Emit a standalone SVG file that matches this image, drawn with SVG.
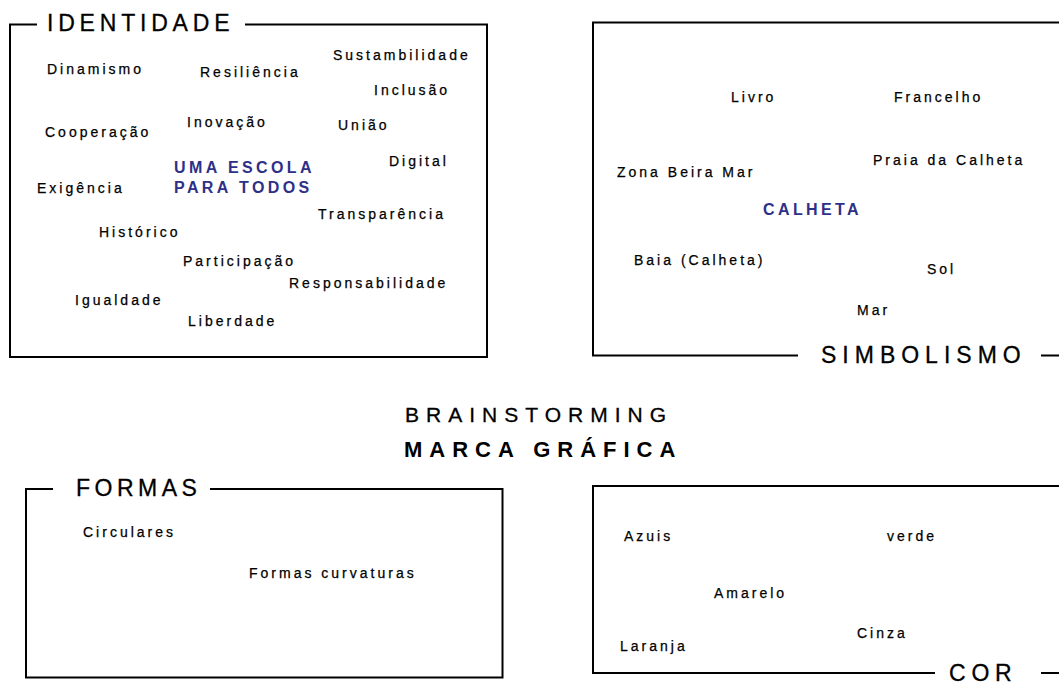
<svg xmlns="http://www.w3.org/2000/svg" width="1059" height="684" viewBox="0 0 1059 684">
<style>
.frame{fill:none;stroke:#000;stroke-width:2}
.w{font-family:"Liberation Sans",Arial,sans-serif;font-size:14px;letter-spacing:3px;fill:#000;stroke:#000;stroke-width:0.25px}
.k{font-family:"Liberation Sans",Arial,sans-serif;font-size:16px;font-weight:bold;letter-spacing:3.4px;fill:#2e3088}
.t{font-family:"Liberation Sans",Arial,sans-serif;font-size:23px;fill:#000;stroke:#000;stroke-width:0.3px}
</style>
<rect width="1059" height="684" fill="#fff"/>
<g id="identidade">
<path class="frame" d="M37,24.5 H10 V357 H487 V24.5 H245"/>
<text class="t" x="47" y="31" letter-spacing="4.8">IDENTIDADE</text>
<text class="w" x="333" y="60">Sustambilidade</text>
<text class="w" x="47" y="74">Dinamismo</text>
<text class="w" x="200" y="77">Resiliência</text>
<text class="w" x="374" y="95">Inclusão</text>
<text class="w" x="187" y="127">Inovação</text>
<text class="w" x="338" y="130">União</text>
<text class="w" x="45" y="137">Cooperação</text>
<text class="w" x="389" y="166">Digital</text>
<text class="k" x="174" y="173">UMA ESCOLA</text>
<text class="k" x="174" y="193">PARA TODOS</text>
<text class="w" x="37" y="193">Exigência</text>
<text class="w" x="318" y="219">Transparência</text>
<text class="w" x="99" y="237">Histórico</text>
<text class="w" x="183" y="266">Participação</text>
<text class="w" x="289" y="288">Responsabilidade</text>
<text class="w" x="75" y="305">Igualdade</text>
<text class="w" x="188" y="326">Liberdade</text>
</g>
<g id="simbolismo">
<path class="frame" d="M1060,22.5 H593 V355.5 H798 M1041,355.5 H1060"/>
<text class="t" x="821" y="363" letter-spacing="6">SIMBOLISMO</text>
<text class="w" x="731" y="102">Livro</text>
<text class="w" x="894" y="102">Francelho</text>
<text class="w" x="873" y="164.5">Praia da Calheta</text>
<text class="w" x="617" y="177">Zona Beira Mar</text>
<text class="k" x="763" y="215">CALHETA</text>
<text class="w" x="634" y="265">Baia (Calheta)</text>
<text class="w" x="927" y="274">Sol</text>
<text class="w" x="857" y="315">Mar</text>
</g>
<g id="titulo">
<text x="405" y="422" font-family="Liberation Sans, Arial, sans-serif" font-size="21" letter-spacing="7" fill="#000" stroke="#000" stroke-width="0.3">BRAINSTORMING</text>
<text x="404" y="457" font-family="Liberation Sans, Arial, sans-serif" font-size="22" font-weight="bold" letter-spacing="7" fill="#000">MARCA GRÁFICA</text>
</g>
<g id="formas">
<path class="frame" d="M53,489 H26 V677.5 H502.5 V489 H210"/>
<text class="t" x="76" y="496" font-size="24" letter-spacing="4.5">FORMAS</text>
<text class="w" x="83" y="537">Circulares</text>
<text class="w" x="249" y="577.5">Formas curvaturas</text>
</g>
<g id="cor">
<path class="frame" d="M1060,486 H593 V673 H935 M1041,673 H1060"/>
<text class="t" x="949" y="681" letter-spacing="5.8">COR</text>
<text class="w" x="624" y="541">Azuis</text>
<text class="w" x="887" y="541">verde</text>
<text class="w" x="714" y="597.5">Amarelo</text>
<text class="w" x="857" y="637.5">Cinza</text>
<text class="w" x="620" y="651">Laranja</text>
</g>
<g id="connectors"/>
</svg>
